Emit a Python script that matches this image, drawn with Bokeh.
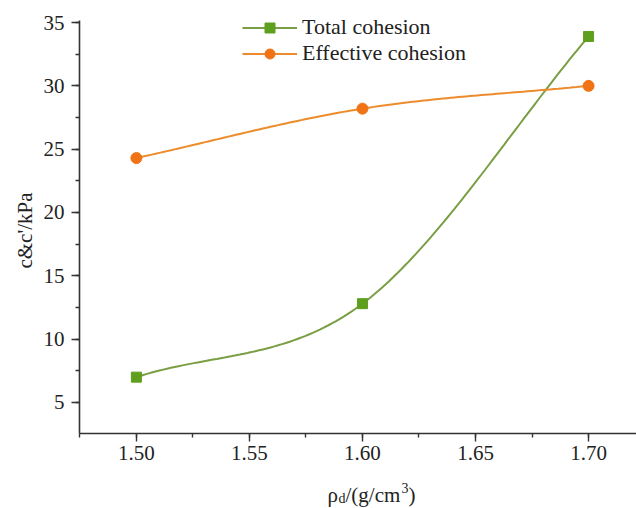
import math
import numpy as np
from bokeh.plotting import figure
from bokeh.models import (SingleIntervalTicker, PrintfTickFormatter, Range1d,
                          Legend, LegendItem, Label)
from bokeh.embed import file_html
from bokeh.resources import INLINE

# ---- data ----
density = [1.50, 1.60, 1.70]
total_cohesion = [7.0, 12.8, 33.9]
effective_cohesion = [24.3, 28.2, 30.0]
series_names = ["Total cohesion", "Effective cohesion"]
y_label = "c&c'/kPa"

FONT = "Liberation Serif"
GREEN_LINE = "#7a9e44"
GREEN_MARK = "#5e9f1e"
ORANGE_LINE = "#ec8c2c"
ORANGE_MARK = "#f07416"

# axis extents and the (wider) visible window around them
X_AXIS_MIN, X_AXIS_MAX = 1.4748, 1.7212
Y_AXIS_MIN, Y_AXIS_MAX = 2.55, 35.16
X_VIEW_MIN = 1.4399
Y_VIEW_MIN, Y_VIEW_MAX = -3.372, 36.739


def smooth(xs, ys, n=60):
    """Cardinal (Catmull-Rom) Hermite curve through the data points."""
    xs = np.asarray(xs, float)
    ys = np.asarray(ys, float)
    k = len(xs)
    m = np.zeros(k)
    for i in range(k):
        if i == 0:
            m[i] = (ys[1] - ys[0]) / (xs[1] - xs[0])
        elif i == k - 1:
            m[i] = (ys[-1] - ys[-2]) / (xs[-1] - xs[-2])
        else:
            m[i] = (ys[i + 1] - ys[i - 1]) / (xs[i + 1] - xs[i - 1])
    ox, oy = [], []
    for i in range(k - 1):
        h = xs[i + 1] - xs[i]
        t = np.linspace(0, 1, n)
        h00 = 2 * t**3 - 3 * t**2 + 1
        h10 = t**3 - 2 * t**2 + t
        h01 = -2 * t**3 + 3 * t**2
        h11 = t**3 - t**2
        yy = h00 * ys[i] + h10 * h * m[i] + h01 * ys[i + 1] + h11 * h * m[i + 1]
        ox.extend(list(xs[i] + t * h))
        oy.extend(list(yy))
    return ox, oy


p = figure(width=636, height=508,
           x_range=Range1d(X_VIEW_MIN, X_AXIS_MAX),
           y_range=Range1d(Y_VIEW_MIN, Y_VIEW_MAX),
           output_backend="svg", toolbar_location=None,
           min_border_left=0, min_border_right=0,
           min_border_top=0, min_border_bottom=0)

p.grid.visible = False
p.outline_line_color = None
p.background_fill_color = "white"
p.border_fill_color = "white"

# axes, drawn inside the frame at fixed positions
p.xaxis.ticker = SingleIntervalTicker(interval=0.05, num_minor_ticks=2)
p.yaxis.ticker = SingleIntervalTicker(interval=5, num_minor_ticks=2)
p.xaxis.formatter = PrintfTickFormatter(format="%.2f")
p.yaxis.formatter = PrintfTickFormatter(format="%d")
p.xaxis.fixed_location = Y_AXIS_MIN
p.yaxis.fixed_location = X_AXIS_MIN
p.xaxis.bounds = (X_AXIS_MIN, X_AXIS_MAX)
p.yaxis.bounds = (Y_AXIS_MIN, Y_AXIS_MAX)
for ax in (p.xaxis[0], p.yaxis[0]):
    ax.axis_line_color = "#333333"
    ax.axis_line_width = 1.6
    ax.major_tick_line_color = "#333333"
    ax.major_tick_line_width = 1.4
    ax.minor_tick_line_color = "#333333"
    ax.minor_tick_line_width = 1.4
    ax.major_tick_in = 0
    ax.major_tick_out = 8
    ax.minor_tick_in = 0
    ax.minor_tick_out = 4
    ax.major_label_text_font = FONT
    ax.major_label_text_font_size = "21px"
    ax.major_label_text_color = "#222222"
p.yaxis.major_label_standoff = 7
p.xaxis.major_label_standoff = 5

# curves
tx, ty = smooth(density, total_cohesion)
ex, ey = smooth(density, effective_cohesion)
l1 = p.line(tx, ty, line_color=GREEN_LINE, line_width=2)
s1 = p.scatter(density, total_cohesion, marker="square", size=10,
               fill_color=GREEN_MARK, line_color=GREEN_MARK)
l2 = p.line(ex, ey, line_color=ORANGE_LINE, line_width=2)
s2 = p.scatter(density, effective_cohesion, marker="circle", size=11,
               fill_color=ORANGE_MARK, line_color=ORANGE_MARK)

legend = Legend(items=[LegendItem(label=series_names[0], renderers=[l1, s1]),
                       LegendItem(label=series_names[1], renderers=[l2, s2])],
                location=(242, 442), orientation="vertical",
                glyph_width=55, glyph_height=25, label_height=25,
                label_standoff=5, spacing=0, padding=0, margin=0,
                label_text_font=FONT, label_text_font_size="22px",
                label_text_color="#222222",
                border_line_alpha=0, background_fill_alpha=0)
p.add_layout(legend)

# y axis title
p.add_layout(Label(x=24, y=508 - 230, x_units="screen", y_units="screen",
                   text=y_label, angle=math.pi / 2, text_align="center",
                   text_baseline="middle", text_font=FONT, text_font_size="21px",
                   text_color="#222222"))

# x axis title with sub/superscript built from text pieces (screen units)
pieces = [("\u03c1", "21px", 0, 0), ("d", "14px", 11, -4),
          ("/(g/cm", "21px", 18, 0), ("3", "14px", 74, 7), (")", "21px", 81, 0)]
for txt, size, dx, dy in pieces:
    p.add_layout(Label(x=327 + dx, y=14 + dy, x_units="screen", y_units="screen",
                       text=txt, text_font=FONT, text_font_size=size,
                       text_color="#222222", text_baseline="alphabetic"))

open("out.html", "w").write(file_html(p, INLINE))
